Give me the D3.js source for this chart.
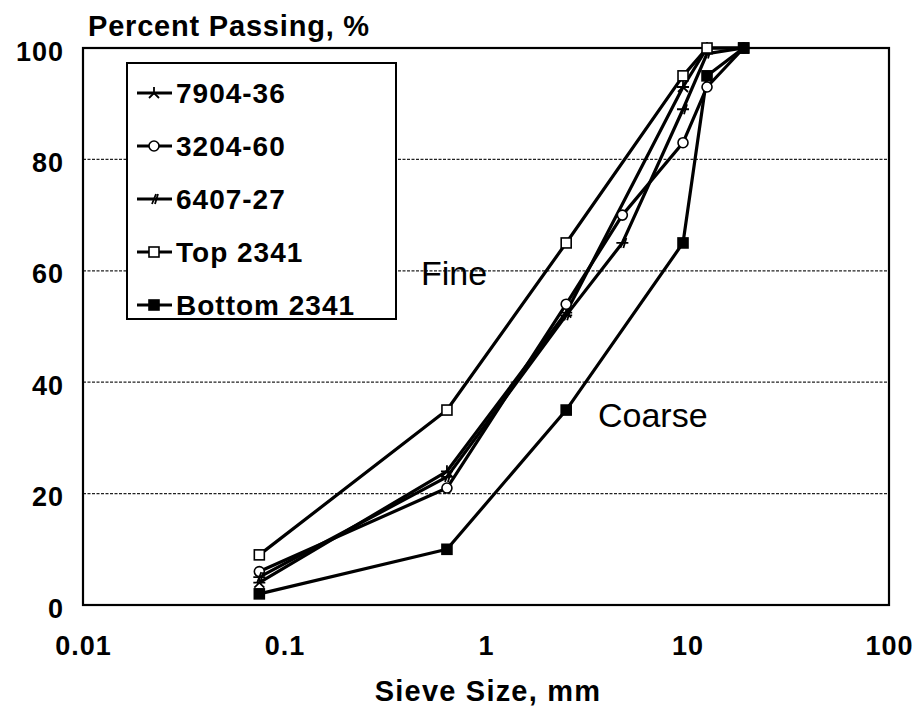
<!DOCTYPE html>
<html>
<head>
<meta charset="utf-8">
<script src="https://cdn.jsdelivr.net/npm/d3@7"></script>
<style>
  html, body { margin: 0; padding: 0; background: #fff; }
  svg { display: block; font-family: "Liberation Sans", Arial, sans-serif; }
</style>
</head>
<body>
<svg id="chart" width="923" height="713"></svg>
<script>
// Sieve sizes (mm) and percent passing for each gradation
const seriesNames = ["7904-36", "3204-60", "6407-27", "Top 2341", "Bottom 2341"];
const sizes7904 = [0.075, 0.64, 2.5, 9.5, 12.5, 19];
const pass7904  = [4, 24, 52.5, 93, 100, 100];
const sizes3204 = [0.075, 0.64, 2.5, 4.75, 9.5, 12.5, 19];
const pass3204  = [6, 21, 54, 70, 83, 93, 100];
const sizes6407 = [0.075, 0.64, 2.5, 4.75, 9.5, 12.5, 19];
const pass6407  = [5, 23, 52, 65, 89, 99, 100];
const sizesTop  = [0.075, 0.64, 2.5, 9.5, 12.5, 19];
const passTop   = [9, 35, 65, 95, 100, 100];
const sizesBot  = [0.075, 0.64, 2.5, 9.5, 12.5, 19];
const passBot   = [2, 10, 35, 65, 95, 100];
const markerKinds = ["asterisk", "circle", "plusSlash", "square", "filledSquare"];

const xTicks = [0.01, 0.1, 1, 10, 100];
const xTickLabels = ["0.01", "0.1", "1", "10", "100"];
const yTicks = [0, 20, 40, 60, 80, 100];

const seriesSizes = [sizes7904, sizes3204, sizes6407, sizesTop, sizesBot];
const seriesPass = [pass7904, pass3204, pass6407, passTop, passBot];
const series = seriesNames.map((name, i) => ({
  name, kind: markerKinds[i],
  points: seriesSizes[i].map((s, j) => ({ size: s, pass: seriesPass[i][j] }))
}));

const svg = d3.select("#chart");
const plotLeft = 83, plotRight = 889, plotTop = 48, plotBottom = 605;

const x = d3.scaleLog().domain([0.01, 100]).range([plotLeft, plotRight]);
const y = d3.scaleLinear().domain([0, 100]).range([plotBottom, plotTop]);

// dotted horizontal gridlines
svg.append("g").selectAll("line")
  .data(yTicks.filter(v => v > 0 && v < 100))
  .join("line")
  .attr("x1", plotLeft).attr("x2", plotRight)
  .attr("y1", d => y(d)).attr("y2", d => y(d))
  .attr("stroke", "#222").attr("stroke-width", 1.3)
  .attr("stroke-dasharray", "3,1.5");

// plot frame
svg.append("rect")
  .attr("x", plotLeft).attr("y", plotTop)
  .attr("width", plotRight - plotLeft).attr("height", plotBottom - plotTop)
  .attr("fill", "none").attr("stroke", "#000").attr("stroke-width", 2.2);

// axes
const xAxis = d3.axisBottom(x).tickValues(xTicks).tickSize(0)
  .tickFormat((d, i) => xTickLabels[i]);
const gx = svg.append("g").attr("transform", `translate(0,${plotBottom})`).call(xAxis);
gx.select(".domain").remove();
gx.selectAll("text").attr("dy", null).attr("y", 50)
  .attr("font-size", 27).attr("font-weight", "bold").attr("fill", "#000")
  .attr("letter-spacing", 1)
  .attr("font-family", "Liberation Sans, Arial, sans-serif");

const yAxis = d3.axisLeft(y).tickValues(yTicks).tickSize(0);
const gy = svg.append("g").attr("transform", `translate(${plotLeft},0)`).call(yAxis);
gy.select(".domain").remove();
gy.selectAll("text").attr("x", -19).attr("dy", "0.45em")
  .attr("font-size", 27).attr("font-weight", "bold").attr("fill", "#000")
  .attr("letter-spacing", 1)
  .attr("font-family", "Liberation Sans, Arial, sans-serif");

// axis titles
svg.append("text").attr("x", 88).attr("y", 36)
  .attr("font-size", 29).attr("font-weight", "bold").attr("letter-spacing", 0.8)
  .text("Percent Passing, %");
svg.append("text").attr("x", 488).attr("y", 701)
  .attr("text-anchor", "middle")
  .attr("font-size", 29).attr("font-weight", "bold").attr("letter-spacing", 1.2)
  .text("Sieve Size, mm");

// region annotations
svg.append("text").attr("x", 421).attr("y", 285)
  .attr("font-size", 34).text("Fine");
svg.append("text").attr("x", 598).attr("y", 427)
  .attr("font-size", 34).text("Coarse");

// marker drawing
function drawMarker(g, kind, cx, cy) {
  const s = 5;
  if (kind === "circle") {
    g.append("circle").attr("cx", cx).attr("cy", cy).attr("r", s)
      .attr("fill", "#fff").attr("stroke", "#000").attr("stroke-width", 1.6);
  } else if (kind === "square" || kind === "filledSquare") {
    g.append("rect").attr("x", cx - s).attr("y", cy - s)
      .attr("width", 2 * s).attr("height", 2 * s)
      .attr("fill", kind === "square" ? "#fff" : "#000")
      .attr("stroke", "#000").attr("stroke-width", 1.6);
  } else if (kind === "asterisk") {
    g.append("path")
      .attr("d", `M${cx},${cy - s - 1}V${cy + 1}M${cx - s},${cy + s}L${cx},${cy}L${cx + s},${cy + s}M${cx - s - 1},${cy}H${cx + s + 1}`)
      .attr("stroke", "#000").attr("stroke-width", 1.8).attr("fill", "none");
  } else if (kind === "plusSlash") {
    g.append("path")
      .attr("d", `M${cx - s - 1},${cy}H${cx + s + 1}M${cx - 2},${cy + s}L${cx + 2},${cy - s}M${cx + 1},${cy + s}L${cx + 4},${cy - s}`)
      .attr("stroke", "#000").attr("stroke-width", 1.8).attr("fill", "none");
  }
}

const line = d3.line().x(d => x(d.size)).y(d => y(d.pass));

const gSeries = svg.append("g");
series.forEach(sr => {
  gSeries.append("path").datum(sr.points)
    .attr("d", line)
    .attr("fill", "none").attr("stroke", "#000")
    .attr("stroke-width", 3.2).attr("stroke-linejoin", "round");
});
series.forEach(sr => {
  const g = gSeries.append("g");
  sr.points.forEach(p => drawMarker(g, sr.kind, x(p.size), y(p.pass)));
});

// legend
const legX = 127, legY = 63, legW = 269, legH = 256, rowH = 53;
const leg = svg.append("g");
leg.append("rect").attr("x", legX).attr("y", legY)
  .attr("width", legW).attr("height", legH)
  .attr("fill", "#fff").attr("stroke", "#000").attr("stroke-width", 2);
series.forEach((sr, i) => {
  const cy = legY + 30 + i * rowH;
  leg.append("line").attr("x1", legX + 10).attr("x2", legX + 45)
    .attr("y1", cy).attr("y2", cy)
    .attr("stroke", "#000").attr("stroke-width", 3);
  drawMarker(leg, sr.kind, legX + 27, cy);
  leg.append("text").attr("x", legX + 49).attr("y", cy + 10)
    .attr("font-size", 28).attr("font-weight", "bold").attr("letter-spacing", 1)
    .text(sr.name);
});
</script>
</body>
</html>
